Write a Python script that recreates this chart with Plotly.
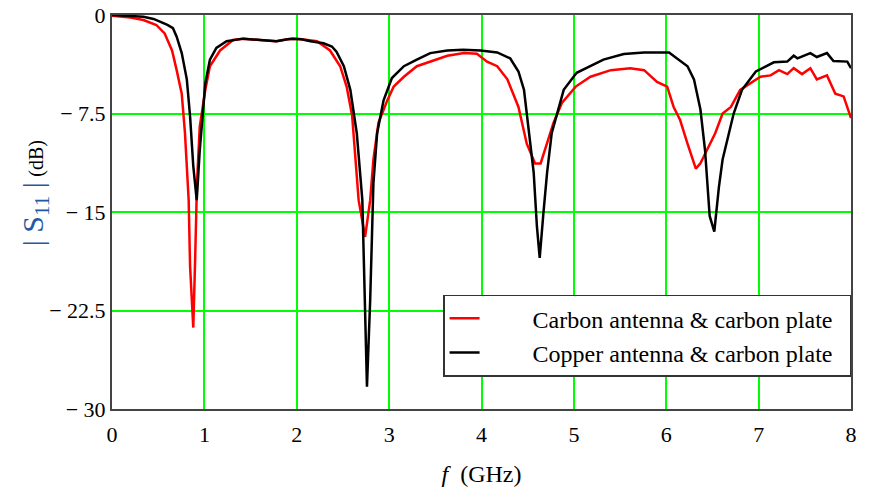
import plotly.graph_objects as go

# Carbon antenna & carbon plate (red)
f_carbon = [0, 0.2, 0.34, 0.48, 0.57, 0.65, 0.70, 0.755, 0.79, 0.83,
            0.845, 0.88, 0.90, 0.92, 0.95, 1.01, 1.06, 1.17, 1.31, 1.42,
            1.6, 1.78, 1.9, 1.96, 2.05, 2.22, 2.36, 2.47, 2.54, 2.60,
            2.67, 2.74, 2.795, 2.83, 2.885, 2.98, 3.05, 3.16, 3.30, 3.445,
            3.63, 3.81, 3.95, 4.06, 4.17, 4.28, 4.40, 4.49, 4.58, 4.64,
            4.71, 4.78, 4.87, 5.02, 5.18, 5.40, 5.61, 5.76, 5.90, 6.01,
            6.08, 6.15, 6.23, 6.32, 6.37, 6.44, 6.53, 6.61, 6.70, 6.80,
            6.91, 7.02, 7.13, 7.22, 7.31, 7.38, 7.47, 7.56, 7.63, 7.74,
            7.83, 7.92, 8.0]
s_carbon = [-0.05, -0.2, -0.38, -0.76, -1.4, -2.7, -4.2, -6.0, -9.0, -14.1,
            -19.1, -23.8, -18.6, -12.8, -8.5, -5.7, -3.9, -2.7, -1.9, -1.8,
            -1.9, -2.0, -1.85, -1.8, -1.85, -2.0, -2.7, -3.9, -5.45, -7.7,
            -14.1, -16.9, -14.1, -11.0, -8.2, -6.5, -5.45, -4.7, -3.9, -3.55,
            -3.1, -2.9, -2.95, -3.55, -3.9, -4.9, -7.0, -9.8, -11.3, -11.3,
            -9.8, -8.2, -6.7, -5.45, -4.7, -4.2, -4.05, -4.2, -5.1, -5.45,
            -7.0, -8.0, -9.8, -11.7, -11.3, -10.3, -9.0, -7.5, -7.0, -5.7,
            -5.2, -4.7, -4.6, -4.2, -4.5, -4.05, -4.5, -4.05, -4.9, -4.6,
            -6.0, -6.2, -7.85]

# Copper antenna & carbon plate (black)
f_copper = [0, 0.2, 0.34, 0.45, 0.52, 0.6, 0.66, 0.70, 0.755, 0.81,
            0.845, 0.88, 0.917, 0.95, 1.01, 1.06, 1.13, 1.24, 1.42, 1.6,
            1.78, 1.9, 1.96, 2.05, 2.15, 2.29, 2.38, 2.43, 2.51, 2.58,
            2.65, 2.71, 2.74, 2.76, 2.795, 2.83, 2.87, 2.94, 3.03, 3.16,
            3.30, 3.445, 3.63, 3.8, 3.99, 4.17, 4.31, 4.40, 4.46, 4.51,
            4.565, 4.60, 4.63, 4.67, 4.71, 4.76, 4.835, 4.89, 5.03, 5.18,
            5.32, 5.54, 5.76, 6.03, 6.12, 6.23, 6.30, 6.37, 6.42, 6.47,
            6.52, 6.57, 6.61, 6.68, 6.73, 6.82, 6.97, 7.165, 7.31, 7.38,
            7.42, 7.56, 7.63, 7.74, 7.81, 7.96, 8.0]
s_copper = [0, -0.05, -0.13, -0.3, -0.5, -0.75, -1.0, -1.65, -2.9, -4.9,
            -7.7, -11.5, -14.1, -10.3, -5.2, -3.4, -2.5, -2.0, -1.8, -1.9,
            -2.0, -1.85, -1.8, -1.85, -2.0, -2.15, -2.4, -2.8, -3.9, -5.7,
            -9.0, -14.1, -21.7, -28.3, -21.7, -12.8, -9.0, -6.5, -4.8, -3.9,
            -3.4, -2.9, -2.7, -2.65, -2.7, -2.85, -3.3, -4.3, -5.7, -8.5,
            -12.0, -16.1, -18.5, -15.1, -12.0, -9.0, -7.0, -5.7, -4.4, -3.9,
            -3.4, -2.97, -2.85, -2.85, -3.3, -3.9, -4.9, -7.2, -10.3, -15.3,
            -16.5, -13.1, -11.0, -9.0, -7.5, -5.7, -4.3, -3.6, -3.55, -3.1,
            -3.3, -2.9, -3.2, -2.9, -3.5, -3.55, -4.05]

x_ticks = [0, 1, 2, 3, 4, 5, 6, 7, 8]
y_ticks = [0, -7.5, -15, -22.5, -30]
y_tick_text = ["0", "\u2212 7.5", "\u2212 15", "\u2212 22.5", "\u2212 30"]

SERIF = "Liberation Serif"
PAD = "\u00a0" * 8
TAIL = "\u00a0" * 2

fig = go.Figure()
fig.add_trace(go.Scatter(x=f_carbon, y=s_carbon, mode="lines",
                         name=PAD + "Carbon antenna &amp; carbon plate" + TAIL,
                         legendgroup="a",
                         line=dict(color="#ff0000", width=2.5)))
fig.add_trace(go.Scatter(x=f_copper, y=s_copper, mode="lines",
                         name=PAD + "Copper antenna &amp; carbon plate" + TAIL,
                         legendgroup="b",
                         line=dict(color="#000000", width=2.5)))

fig.update_layout(
    width=877, height=487,
    margin=dict(l=112, r=26, t=15, b=78),
    paper_bgcolor="white", plot_bgcolor="white",
    font=dict(family=SERIF, size=22, color="black"),
    legend=dict(x=0.448, y=0.29, xanchor="left", yanchor="top",
                bgcolor="white", bordercolor="#333", borderwidth=1.5,
                font=dict(family=SERIF, size=24, color="black"),
                itemwidth=30, tracegroupgap=8,
                traceorder="normal"),
    xaxis=dict(range=[0, 8], tickvals=x_ticks, ticks="",
               showgrid=True, gridcolor="#00ff00", gridwidth=1.5,
               showline=True, linecolor="#444", linewidth=2, mirror=True,
               zeroline=False, ticklabelstandoff=5, automargin=False,
               tickfont=dict(family=SERIF, size=22),
               title=dict(text="<i>f</i>\u00a0\u00a0(GHz)", standoff=22,
                          font=dict(family=SERIF, size=24))),
    yaxis=dict(range=[-30, 0], tickvals=y_ticks, ticktext=y_tick_text,
               ticks="", automargin=False,
               showgrid=True, gridcolor="#00ff00", gridwidth=1.5,
               showline=True, linecolor="#444", linewidth=2, mirror=True,
               zeroline=False,
               tickfont=dict(family=SERIF, size=22)),
    annotations=[dict(
        text="<span style='color:#1d5aa6;font-size:30px'>| S<sub>11</sub> |</span> <span style='font-size:20px'>(dB)</span>",
        xref="paper", yref="paper", x=-0.104, y=0.548,
        xanchor="center", yanchor="middle", textangle=-90, showarrow=False,
        font=dict(family=SERIF, size=22, color="black"))],
)

fig.write_html("out.html")
